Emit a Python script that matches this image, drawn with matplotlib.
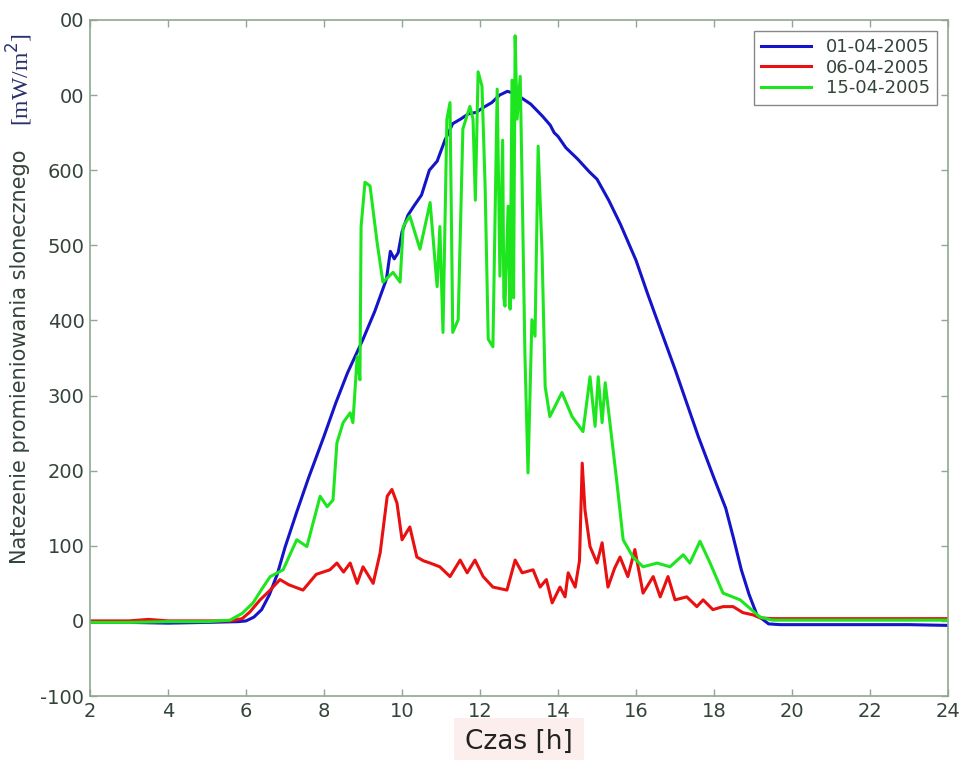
import matplotlib.pyplot as plt

# 01-04-2005 (blue)
h_blue = [2, 3, 4, 5, 5.8, 6.0, 6.2, 6.4, 6.6, 6.8, 7.0, 7.3, 7.6, 8.0, 8.3, 8.6, 9.0, 9.3, 9.6,
          9.7, 9.8, 9.9, 10.0, 10.15, 10.3, 10.5, 10.7, 10.9, 11.1, 11.3, 11.5, 11.7, 11.9, 12.1,
          12.3, 12.5, 12.7, 12.9, 13.1, 13.3, 13.45, 13.6, 13.8, 13.9, 14.0, 14.2, 14.5, 14.8,
          15.0, 15.3, 15.6, 16.0, 16.3, 16.6, 17.0, 17.3, 17.6, 18.0, 18.3, 18.5, 18.7, 18.9,
          19.1, 19.4, 19.7, 20, 21, 22, 23, 24]
v_blue = [-2, -2, -3, -2, -1, 0, 5, 15, 35, 62, 98, 145, 190, 246, 290, 330, 375, 412, 455,
          492, 482, 490, 518, 540, 552, 567, 600, 612, 640, 662, 668, 675, 677, 684,
          690, 700, 705, 702, 695, 688, 680, 672, 660, 650, 645, 630, 615, 598,
          588, 560, 528, 480, 435, 392, 335, 290, 245, 190, 150, 110, 68, 35,
          8, -4, -5, -5, -5, -5, -5, -6]

# 06-04-2005 (red)
h_red = [2, 3, 3.5, 4, 5, 5.6, 5.9, 6.1, 6.36, 6.6, 6.87, 7.1, 7.46, 7.8, 8.15, 8.33, 8.5, 8.67,
         8.85, 9.0, 9.26, 9.44, 9.62, 9.74, 9.87, 10.0, 10.2, 10.38, 10.55, 10.72, 10.97, 11.23,
         11.49, 11.67, 11.87, 12.08, 12.33, 12.69, 12.9, 13.08, 13.36, 13.54, 13.7, 13.85,
         14.05, 14.18, 14.26, 14.44, 14.55, 14.62, 14.69, 14.82, 15.0, 15.13, 15.28, 15.45,
         15.59, 15.79, 15.97, 16.18, 16.44, 16.62, 16.82, 17.0, 17.3, 17.56, 17.72, 17.97,
         18.23, 18.49, 18.74, 19.0, 19.18, 19.5, 20, 21, 22, 23, 24]
v_red = [0, 0, 2, 0, 0, 0, 3, 12, 28, 40, 55, 48, 41, 62, 68, 77, 65, 77,
         50, 72, 50, 91, 166, 175, 157, 108, 125, 85, 80, 77, 72, 59,
         81, 64, 81, 59, 45, 41, 81, 64, 68, 45, 55, 24,
         45, 32, 64, 45, 80, 210, 148, 99, 77, 104, 45, 70,
         85, 59, 95, 37, 59, 32, 59, 28, 32, 19, 28, 15,
         19, 19, 11, 8, 4, 3, 3, 3, 3, 3, 3]

# 15-04-2005 (green)
h_green = [2, 3, 4, 5, 5.59, 5.9, 6.18, 6.4, 6.62, 6.95, 7.3, 7.56, 7.9, 8.08, 8.23, 8.33, 8.49,
           8.67, 8.74, 8.85, 8.92, 8.95, 9.05, 9.18, 9.36, 9.51, 9.77, 9.95, 10.03, 10.2, 10.46,
           10.72, 10.9, 10.97, 11.05, 11.15, 11.23, 11.3, 11.44, 11.56, 11.74, 11.82, 11.88,
           11.95, 12.05, 12.13, 12.21, 12.33, 12.44, 12.51, 12.58, 12.61, 12.64, 12.72, 12.77,
           12.82, 12.86, 12.9, 12.95, 13.03, 13.08, 13.15, 13.23, 13.33, 13.41, 13.49, 13.59,
           13.67, 13.79, 14.1, 14.36, 14.64, 14.82, 14.95, 15.03, 15.13, 15.21, 15.33, 15.51,
           15.67, 15.92, 16.18, 16.54, 16.87, 17.21, 17.38, 17.64, 17.9, 18.23, 18.67, 19.18,
           19.5, 20, 21, 22, 23, 24]
v_green = [-2, -2, -1, -1, 1, 10, 24, 42, 59, 68, 108, 99, 166, 152, 161, 237, 264,
           277, 264, 352, 321, 525, 584, 579, 504, 451, 464, 451, 525, 539, 495,
           557, 445, 525, 384, 668, 690, 384, 401, 655, 685, 668, 560,
           731, 712, 579, 375, 365, 708, 459, 640, 430, 419, 552, 415,
           720, 430, 779, 668, 725, 579, 357, 197, 401, 379, 632, 491,
           312, 272, 304, 272, 252, 325, 259, 325, 264, 317, 264, 184,
           108, 85, 72, 77, 72, 88, 77, 106, 77, 37, 28, 5,
           1, 1, 1, 1, 1, 1]

x_ticks = list(range(2, 25, 2))
y_ticks = list(range(-100, 801, 100))
y_tick_labels = ['-100', '0', '100', '200', '300', '400', '500', '600', '00', '00']

spine_color = '#8fa88f'
text_color = '#34443a'

fig = plt.figure(figsize=(9.61, 7.6), dpi=100)
ax = fig.add_axes([0.0937, 0.0842, 0.8928, 0.8895])

ax.plot(h_blue, v_blue, color='#1414c8', lw=2.2, label='01-04-2005')
ax.plot(h_red, v_red, color='#e81010', lw=2.2, label='06-04-2005')
ax.plot(h_green, v_green, color='#1ee61e', lw=2.2, label='15-04-2005')

ax.set_xlim(2, 24)
ax.set_ylim(-100, 800)
ax.set_xticks(x_ticks)
ax.set_yticks(y_ticks)
ax.set_yticklabels(y_tick_labels)
ax.tick_params(direction='in', length=5, width=1, color=spine_color, labelcolor=text_color,
               labelsize=14, top=True, right=True, pad=4)
for s in ax.spines.values():
    s.set_color(spine_color)
    s.set_linewidth(1.2)

ax.set_xlabel('Czas [h]', fontsize=19, color='#222222', labelpad=6,
              bbox=dict(facecolor='#fdeeee', edgecolor='none', pad=8))
fig.text(0.021, 0.53, 'Natezenie promieniowania slonecznego', rotation=90, fontsize=15,
         color=text_color, ha='center', va='center')
fig.text(0.021, 0.895, '[mW/m$^2$]', rotation=90, fontsize=17, family='Liberation Serif',
         color='#28306a', ha='center', va='center')

leg = ax.legend(loc='upper right', fontsize=13, fancybox=False, framealpha=1,
                edgecolor='#888888', handlelength=2.8, labelspacing=0.15,
                borderaxespad=0.6, borderpad=0.4)
for t in leg.get_texts():
    t.set_color(text_color)

fig.savefig('out.png', dpi=100)
